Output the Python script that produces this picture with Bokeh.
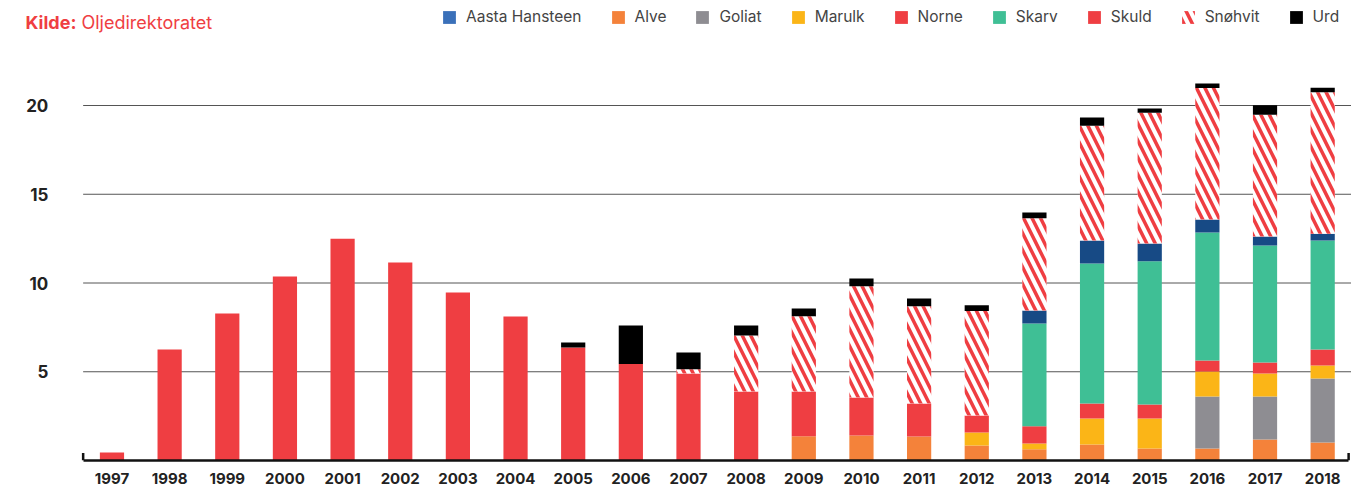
from bokeh.plotting import figure
from bokeh.models import ColumnDataSource, FactorRange, Legend, LegendItem, Label
from bokeh.transform import stack, dodge
from bokeh.core.properties import value
from bokeh.embed import file_html
from bokeh.resources import INLINE

years = [str(y) for y in range(1997, 2019)]

alve     = [0, 0, 0, 0, 0, 0, 0, 0, 0, 0, 0, 0, 1.37, 1.41, 1.35, 0.85, 0.64, 0.90, 0.68, 0.68, 1.18, 1.01]
goliat   = [0, 0, 0, 0, 0, 0, 0, 0, 0, 0, 0, 0, 0, 0, 0, 0, 0, 0, 0, 2.93, 2.42, 3.61]
marulk   = [0, 0, 0, 0, 0, 0, 0, 0, 0, 0, 0, 0, 0, 0, 0, 0.73, 0.32, 1.46, 1.69, 1.41, 1.30, 0.73]
norne    = [0.45, 6.25, 8.28, 10.37, 12.5, 11.15, 9.46, 8.11, 6.37, 5.43, 4.90, 3.89, 2.52, 2.14, 1.86, 0.96,
            0.97, 0.85, 0.79, 0.62, 0.62, 0.90]
skuld    = [0] * 22
skarv    = [0, 0, 0, 0, 0, 0, 0, 0, 0, 0, 0, 0, 0, 0, 0, 0, 5.79, 7.89, 8.06, 7.21, 6.59, 6.14]
aasta    = [0, 0, 0, 0, 0, 0, 0, 0, 0, 0, 0, 0, 0, 0, 0, 0, 0.73, 1.30, 1.01, 0.73, 0.51, 0.39]
snohvit  = [0, 0, 0, 0, 0, 0, 0, 0, 0, 0, 0.24, 3.15, 4.24, 6.27, 5.48, 5.88, 5.20, 6.46, 7.36, 7.40, 6.86, 7.96]
urd      = [0, 0, 0, 0, 0, 0, 0, 0, 0.28, 2.17, 0.94, 0.56, 0.43, 0.43, 0.43, 0.32, 0.32, 0.47, 0.24, 0.26, 0.53, 0.26]

y_ticks = [5, 10, 15, 20]
y_tick_labels = ["5", "10", "15", "20"]

RED = "#ef3e42"
FONT = "Inter"
PAD = " "  # blank category holding the value-axis labels

data = dict(year=years, Alve=alve, Goliat=goliat, Marulk=marulk, Norne=norne, Skuld=skuld,
            Skarv=skarv, Aasta=aasta, Snohvit=snohvit, Urd=urd)
src = ColumnDataSource(data)

stack_order = ["Alve", "Goliat", "Marulk", "Norne", "Skuld", "Skarv", "Aasta", "Snohvit", "Urd"]
colors = {"Alve": "#f4823a", "Goliat": "#8e8d92", "Marulk": "#fbb517", "Norne": RED, "Skuld": RED,
          "Skarv": "#3fbf95", "Aasta": "#174a85", "Snohvit": "white", "Urd": "#000000"}

p = figure(width=1351, height=490, x_range=FactorRange(PAD, *years), y_range=(0, 460 / 17.75),
           output_backend="svg", toolbar_location=None, title=None,
           min_border_left=25, min_border_right=0, min_border_top=0, min_border_bottom=30)
p.outline_line_color = None
p.background_fill_color = "white"
p.border_fill_color = "white"
p.xgrid.visible = False
p.ygrid.visible = False
p.yaxis.visible = False

# horizontal grid lines, from the first category's left edge to the right edge
grid_src = ColumnDataSource(dict(x0=[years[0]] * len(y_ticks), x1=[years[-1]] * len(y_ticks), y=y_ticks))
p.segment(x0=dodge("x0", -0.5, range=p.x_range), x1=dodge("x1", 0.5, range=p.x_range),
          y0="y", y1="y", source=grid_src, line_color="#555555", line_width=1)

# value-axis labels
lab_src = ColumnDataSource(dict(x=[PAD] * len(y_ticks), y=y_ticks, t=y_tick_labels))
p.text(x="x", y="y", text="t", source=lab_src, x_offset=-6, text_align="right", text_baseline="middle",
       text_font=value(FONT), text_font_style="bold", text_font_size="17px", text_color="#222222")

renderers = {}
for i, name in enumerate(stack_order):
    bottom = stack(*stack_order[:i]) if i > 0 else 0
    kw = {}
    if name == "Snohvit":
        kw = dict(hatch_pattern="left_diagonal_line", hatch_color=RED, hatch_scale=17, hatch_weight=3.5)
    r = p.vbar(x="year", bottom=bottom, top=stack(*stack_order[:i + 1]), width=0.42, source=src,
               fill_color=colors[name], line_color=None, **kw)
    renderers[name] = r

# small end ticks of the category axis
p.segment(x0=dodge("x", -0.5, range=p.x_range), x1=dodge("x", -0.5, range=p.x_range),
          y0=0, y1=0.42, source=ColumnDataSource(dict(x=[years[0]])), line_color="#111111", line_width=2.5)
p.segment(x0=dodge("x", 0.45, range=p.x_range), x1=dodge("x", 0.45, range=p.x_range),
          y0=0, y1=0.42, source=ColumnDataSource(dict(x=[years[-1]])), line_color="#111111", line_width=2.5)

# legend swatch for Aasta Hansteen (lighter blue than its bars), zero height
aasta_legend = p.vbar(x=[years[0]], bottom=[0], top=[0], width=0.42, fill_color="#3a70b9", line_color=None)

items = [
    LegendItem(label="Aasta Hansteen", renderers=[aasta_legend]),
    LegendItem(label="Alve", renderers=[renderers["Alve"]]),
    LegendItem(label="Goliat", renderers=[renderers["Goliat"]]),
    LegendItem(label="Marulk", renderers=[renderers["Marulk"]]),
    LegendItem(label="Norne", renderers=[renderers["Norne"]]),
    LegendItem(label="Skarv", renderers=[renderers["Skarv"]]),
    LegendItem(label="Skuld", renderers=[renderers["Skuld"]]),
    LegendItem(label="Snøhvit", renderers=[renderers["Snohvit"]]),
    LegendItem(label="Urd", renderers=[renderers["Urd"]]),
]
legend = Legend(items=items, orientation="horizontal", location=(416, 434),
                glyph_width=16, glyph_height=16, label_height=16, label_standoff=9, spacing=28,
                padding=0, margin=0, border_line_color=None, background_fill_alpha=0,
                label_text_font_size="15.5px", label_text_color="#444444", label_text_font=FONT)
p.add_layout(legend)

p.add_layout(Label(x=0, y=438, x_units="screen", y_units="screen", text="Kilde:",
                   text_font_style="bold", text_color=RED, text_font_size="18px",
                   text_font=FONT, text_baseline="middle"))
p.add_layout(Label(x=56, y=438, x_units="screen", y_units="screen", text="Oljedirektoratet",
                   text_color=RED, text_font_size="18px", text_font=FONT, text_baseline="middle"))

p.xaxis.bounds = (1, 22.95)
p.xaxis.axis_line_color = "#111111"
p.xaxis.axis_line_width = 2.5
p.xaxis.major_tick_line_color = None
p.xaxis.major_tick_out = 0
p.xaxis.major_tick_in = 0
p.xaxis.major_label_standoff = 12
p.xaxis.major_label_text_font = FONT
p.xaxis.major_label_text_font_style = "bold"
p.xaxis.major_label_text_font_size = "15px"
p.xaxis.major_label_text_color = "#222222"

open("out.html", "w").write(file_html(p, INLINE))
